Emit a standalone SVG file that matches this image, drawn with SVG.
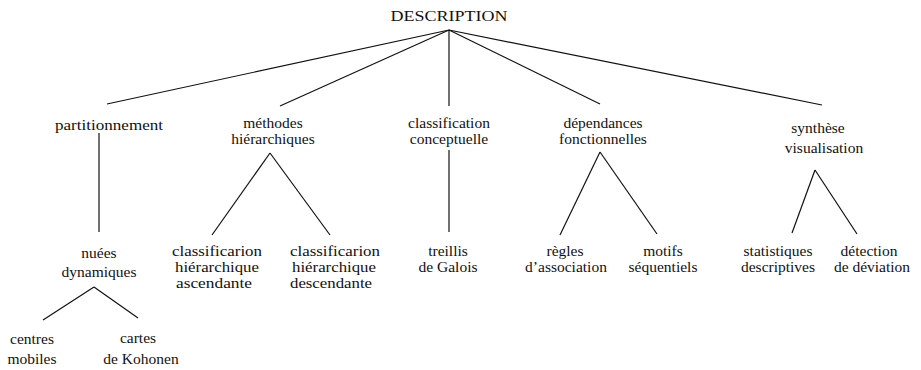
<svg xmlns="http://www.w3.org/2000/svg" width="921" height="370" viewBox="0 0 921 370">
<style>
text{font-family:"Liberation Serif","Times New Roman",serif;font-size:15.5px;fill:#111;text-anchor:middle}
.l{text-anchor:start}
line{stroke:#111;stroke-width:1.2;fill:none}
</style>
<rect width="921" height="370" fill="#fff"/>
<g id="connectors">
<line x1="449" y1="30" x2="107" y2="104"/>
<line x1="449" y1="30" x2="280" y2="106"/>
<line x1="449" y1="30" x2="449" y2="106"/>
<line x1="449" y1="30" x2="600" y2="104"/>
<line x1="449" y1="30" x2="822" y2="105"/>
<line x1="99" y1="133" x2="99" y2="232"/>
<line x1="270" y1="153" x2="212" y2="235"/>
<line x1="270" y1="153" x2="330" y2="235"/>
<line x1="449" y1="150" x2="449" y2="232"/>
<line x1="600" y1="152" x2="560" y2="235"/>
<line x1="600" y1="152" x2="657" y2="234"/>
<line x1="815" y1="170" x2="792" y2="233"/>
<line x1="815" y1="170" x2="857" y2="234"/>
<line x1="94" y1="287" x2="43" y2="320"/>
<line x1="94" y1="287" x2="138" y2="318"/>
</g>
<g id="description"><text x="449" y="21" textLength="117" lengthAdjust="spacingAndGlyphs">DESCRIPTION</text></g>
<g id="partitionnement"><text x="109" y="130" textLength="108" lengthAdjust="spacingAndGlyphs">partitionnement</text></g>
<g id="methodes"><text x="273" y="128">méthodes</text><text x="273" y="144">hiérarchiques</text></g>
<g id="classification"><text x="449" y="128">classification</text><text x="449" y="144">conceptuelle</text></g>
<g id="dependances"><text x="603" y="128">dépendances</text><text x="603" y="144">fonctionnelles</text></g>
<g id="synthese"><text x="818" y="133">synthèse</text><text x="824" y="153">visualisation</text></g>
<g id="nuees"><text x="99" y="258">nuées</text><text x="99" y="277">dynamiques</text></g>
<g id="cha"><text class="l" x="172" y="256" textLength="90" lengthAdjust="spacingAndGlyphs">classificarion</text><text class="l" x="175" y="272" textLength="84" lengthAdjust="spacingAndGlyphs">hiérarchique</text><text class="l" x="176" y="288" textLength="76" lengthAdjust="spacingAndGlyphs">ascendante</text></g>
<g id="chd"><text class="l" x="290" y="256" textLength="90" lengthAdjust="spacingAndGlyphs">classificarion</text><text class="l" x="292" y="272" textLength="84" lengthAdjust="spacingAndGlyphs">hiérarchique</text><text class="l" x="290" y="288" textLength="82" lengthAdjust="spacingAndGlyphs">descendante</text></g>
<g id="treillis"><text x="448" y="256">treillis</text><text x="448" y="272">de Galois</text></g>
<g id="regles"><text x="565" y="256">règles</text><text x="566" y="272">d’association</text></g>
<g id="motifs"><text x="663" y="256">motifs</text><text x="663" y="272">séquentiels</text></g>
<g id="statistiques"><text x="778" y="256">statistiques</text><text x="778" y="272">descriptives</text></g>
<g id="detection"><text x="869" y="256">détection</text><text x="872" y="272">de déviation</text></g>
<g id="centres"><text x="32" y="344">centres</text><text x="32" y="364">mobiles</text></g>
<g id="cartes"><text x="138" y="343">cartes</text><text x="141" y="364">de Kohonen</text></g>
</svg>
